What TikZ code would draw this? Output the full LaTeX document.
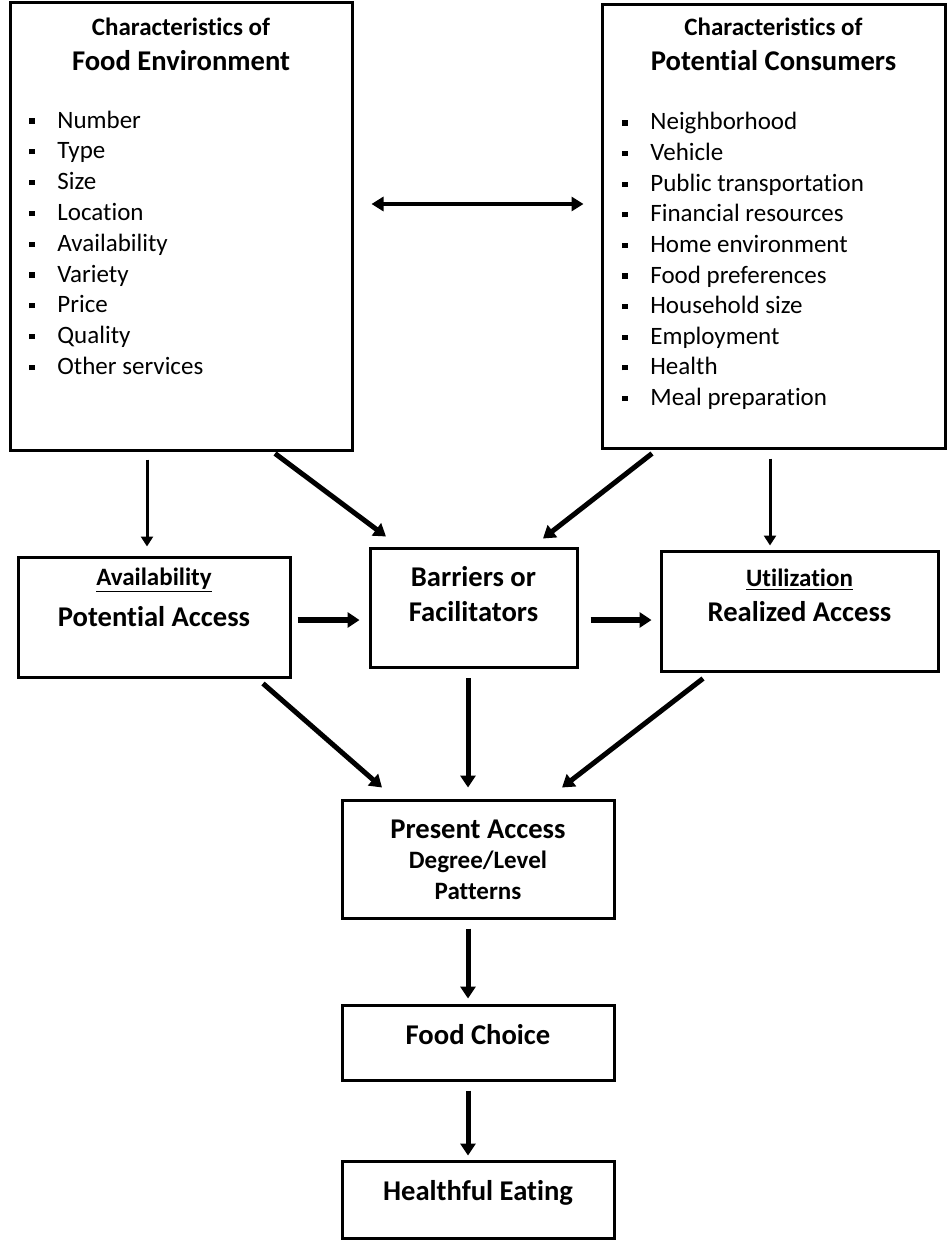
\documentclass[tikz,border=0pt]{standalone}
\usepackage{fontspec}
\setmainfont{Carlito}[Ligatures={NoCommon,NoContextual}]
\usetikzlibrary{arrows.meta}

\tikzset{
  box/.style={draw, line width=1.5pt, inner sep=0pt},
  head/.style={font=\fontsize{14.3}{17}\selectfont\bfseries, inner sep=0pt, anchor=base},
  sub/.style={font=\fontsize{12.5}{15}\selectfont\bfseries, inner sep=0pt, anchor=base},
  item/.style={font=\fontsize{12.5}{15}\selectfont, inner sep=0pt, anchor=base west},
  thinarr/.style={line width=1.5pt, -{Triangle[length=5pt,width=6pt]}},
  thickarr/.style={line width=2.5pt, -{Triangle[length=6pt,width=7.5pt]}},
}
\newcommand{\bul}{\makebox[14pt][l]{\rule[2.2pt]{2.6pt}{2.6pt}}}

\begin{document}
\begin{tikzpicture}[x=0.5pt, y=-0.5pt]
    \useasboundingbox (0,0) rectangle (947,1247);

    % top boxes
    \node[box, minimum width=171pt, minimum height=223.5pt] (fenv) at (181,226.5) {};
    \node[box, minimum width=171.5pt, minimum height=221.5pt] (cons) at (773.5,226.5) {};

    \node[sub] (fenvtop) at (181,36) {Characteristics of};
    \node[head] (fenvname) at (181,71) {Food Environment};
    \foreach \txt [count=\k] in {Number, Type, Size, Location, Availability,
        Variety, Price, Quality, Other services}
        \node[item] (fe\k) at (29,{128+30.8*(\k-1)}) {\bul\txt};

    \node[sub] (constop) at (773.5,36) {Characteristics of};
    \node[head] (consname) at (773.5,71) {Potential Consumers};
    \foreach \txt [count=\k] in {Neighborhood, Vehicle, Public transportation,
        Financial resources, Home environment, Food preferences,
        Household size, Employment, Health, Meal preparation}
        \node[item] (pc\k) at (622,{130+30.6*(\k-1)}) {\bul\txt};

    % middle row
    \node[box, minimum width=136pt, minimum height=60pt] (avail) at (154,617) {};
    \node[box, minimum width=103.5pt, minimum height=59.5pt] (barr) at (473.5,607.5) {};
    \node[box, minimum width=138.5pt, minimum height=60pt] (util) at (799.5,611) {};

    \node[sub] (availtop) at (154,585) {\underline{Availability}};
    \node[head] (availname) at (154,626) {Potential Access};
    \node[head] (barrtop) at (473.5,586) {Barriers or};
    \node[head] (barrname) at (473.5,621) {Facilitators};
    \node[sub] (utiltop) at (799.5,586) {\underline{Utilization}};
    \node[head] (utilname) at (799.5,621) {Realized Access};

    % lower column
    \node[box, minimum width=136pt, minimum height=59pt] (pres) at (478,859) {};
    \node[box, minimum width=136pt, minimum height=37.5pt] (choice) at (478,1042.5) {};
    \node[box, minimum width=136pt, minimum height=38.5pt] (heal) at (478,1199.5) {};

    \node[head] (presname) at (478,838) {Present Access};
    \node[sub] (presdeg) at (478,868) {Degree/Level};
    \node[sub] (prespat) at (478,899) {Patterns};
    \node[head] (choicename) at (478,1044) {Food Choice};
    \node[head] (healname) at (478,1200) {Healthful Eating};

    % arrows
    \draw[line width=2pt, {Triangle[length=6pt,width=7pt]}-{Triangle[length=6pt,width=7pt]}]
        ([xshift=9pt, yshift=11.25pt]fenv.east) -- ([xshift=-8.5pt, yshift=11.25pt]cons.west);
    \draw[thinarr] ([xshift=-17pt, yshift=-4pt]fenv.south) -- ([xshift=-3.5pt, yshift=4.5pt]avail.north);
    \draw[thickarr] ([xshift=47pt, yshift=-1pt]fenv.south) -- ([xshift=-43.75pt, yshift=5pt]barr.north);
    \draw[thickarr] ([xshift=-60.75pt, yshift=-2pt]cons.south) -- ([xshift=34.75pt, yshift=4pt]barr.north);
    \draw[thinarr] ([xshift=-1.75pt, yshift=-4.5pt]cons.south) -- ([xshift=-14.75pt, yshift=2pt]util.north);

    \draw[thickarr, line width=3pt] ([xshift=3pt, yshift=-1.5pt]avail.east) -- ([xshift=-4.5pt, yshift=-6.25pt]barr.west);
    \draw[thickarr, line width=3pt] ([xshift=6pt, yshift=-6.25pt]barr.east) -- ([xshift=-4pt, yshift=-4.5pt]util.west);

    \draw[thickarr] ([xshift=54.5pt, yshift=-2.5pt]avail.south) -- ([xshift=-48pt, yshift=5.5pt]pres.north);
    \draw[thickarr] ([xshift=-2.75pt, yshift=-4.75pt]barr.south) -- ([xshift=-5pt, yshift=5.5pt]pres.north);
    \draw[thickarr] ([xshift=-48.25pt, yshift=-3pt]util.south) -- ([xshift=42pt, yshift=5.5pt]pres.north);

    \draw[thickarr] ([xshift=-5pt, yshift=-4.5pt]pres.south) -- ([xshift=-5pt, yshift=2.5pt]choice.north);
    \draw[thickarr] ([xshift=-5pt, yshift=-4.5pt]choice.south) -- ([xshift=-5pt, yshift=2pt]heal.north);

\end{tikzpicture}
\end{document}
